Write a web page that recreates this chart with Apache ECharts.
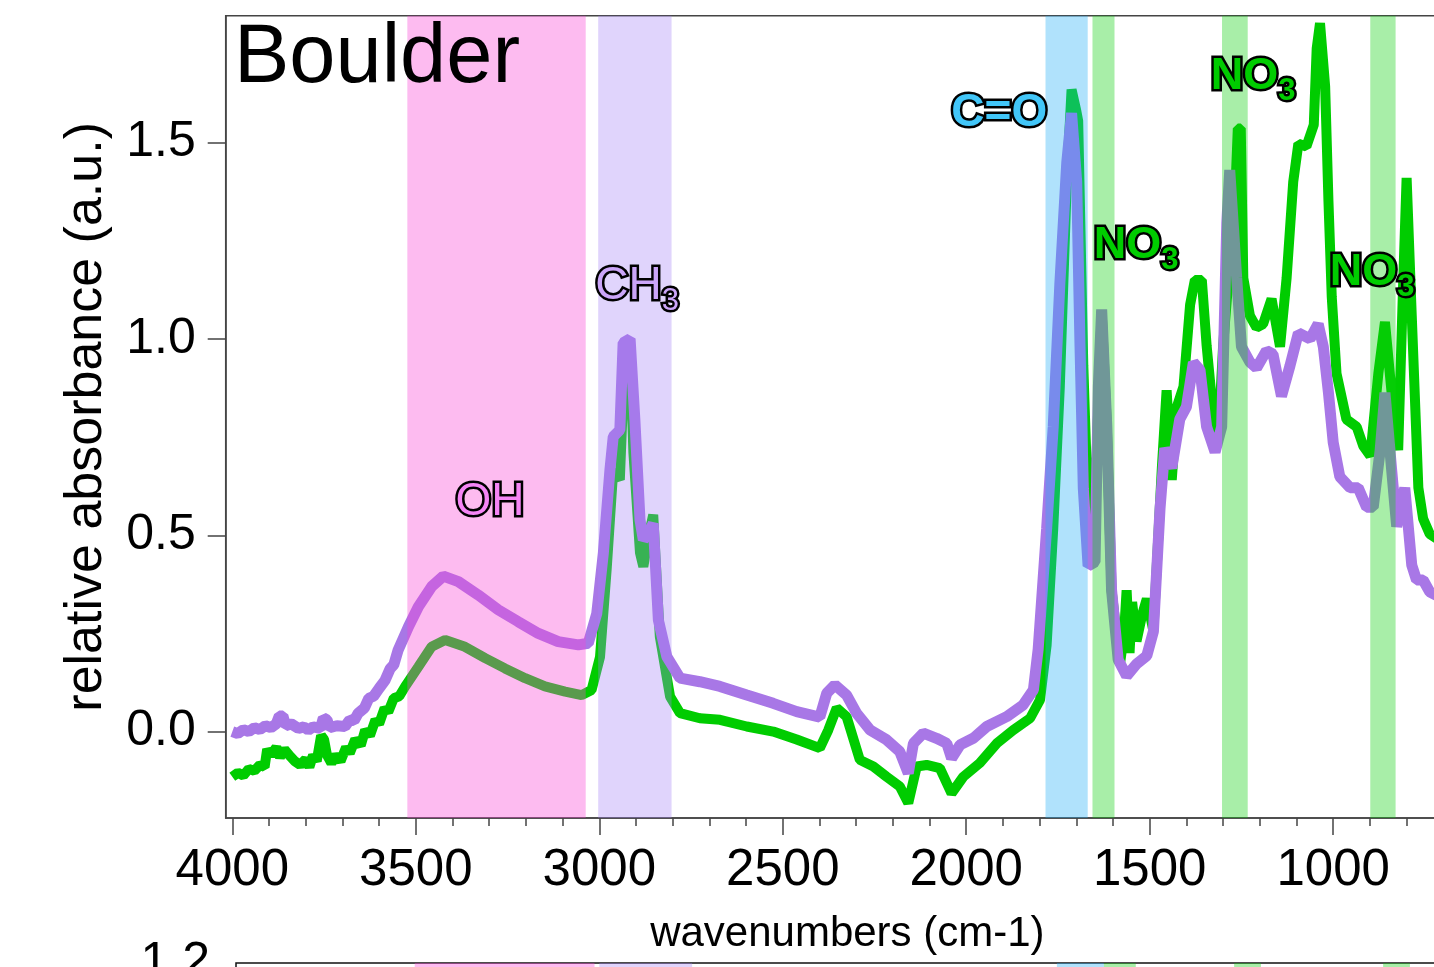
<!DOCTYPE html>
<html>
<head>
<meta charset="utf-8">
<script src="https://cdn.jsdelivr.net/npm/echarts@6/dist/echarts.min.js"></script>
<style>
html, body { margin: 0; padding: 0; background: #fff; }
#chart { width: 1434px; height: 967px; }
</style>
</head>
<body>
<div id="chart"></div>
<script>
// spectra (wavenumber, relative absorbance)
var greenWn = [4000, 3985, 3970, 3955, 3940, 3925, 3912, 3905, 3895, 3880, 3870, 3858, 3845, 3830, 3815, 3800, 3790, 3780, 3770, 3758, 3750, 3742, 3730, 3718, 3705, 3690, 3680, 3665, 3650, 3638, 3625, 3610, 3600, 3585, 3575, 3560, 3545, 3529, 3493, 3457, 3420, 3366, 3311, 3257, 3202, 3148, 3093, 3048, 3021, 2998, 2980, 2962, 2944, 2930, 2916, 2907, 2889, 2880, 2866, 2853, 2835, 2807, 2780, 2726, 2671, 2598, 2526, 2462, 2399, 2376, 2353, 2326, 2290, 2253, 2217, 2181, 2158, 2135, 2108, 2072, 2040, 2008, 1963, 1917, 1872, 1826, 1799, 1781, 1763, 1745, 1726, 1713, 1700, 1695, 1681, 1670, 1660, 1645, 1631, 1617, 1604, 1581, 1570, 1563, 1555, 1548, 1536, 1520, 1508, 1490, 1467, 1454, 1440, 1426, 1408, 1390, 1377, 1358, 1345, 1327, 1313, 1300, 1290, 1270, 1260, 1252, 1245, 1227, 1209, 1191, 1168, 1145, 1127, 1109, 1095, 1073, 1053, 1045, 1036, 1022, 1013, 1004, 991, 964, 936, 918, 899, 877, 859, 836, 823, 809, 800, 786, 768, 755, 737, 715, 690];
var greenAbs = [-0.115, -0.105, -0.112, -0.095, -0.1, -0.085, -0.09, -0.045, -0.06, -0.04, -0.065, -0.045, -0.06, -0.075, -0.085, -0.07, -0.09, -0.06, -0.075, -0.01, -0.02, -0.06, -0.08, -0.06, -0.075, -0.04, -0.055, -0.02, -0.035, 0.004, -0.01, 0.03, 0.02, 0.06, 0.05, 0.085, 0.09, 0.115, 0.165, 0.216, 0.233, 0.216, 0.187, 0.161, 0.136, 0.115, 0.102, 0.093, 0.106, 0.19, 0.412, 0.666, 0.641, 0.97, 0.96, 0.71, 0.455, 0.42, 0.497, 0.552, 0.242, 0.089, 0.047, 0.034, 0.03, 0.013, 0.0, -0.02, -0.042, 0.004, 0.06, 0.038, -0.072, -0.089, -0.115, -0.14, -0.182, -0.089, -0.085, -0.093, -0.157, -0.115, -0.08, -0.03, 0.004, 0.034, 0.081, 0.22, 0.516, 0.879, 1.40, 1.635, 1.58, 1.555, 0.931, 0.62, 0.52, 0.7, 1.07, 0.78, 0.36, 0.172, 0.25, 0.36, 0.2, 0.33, 0.23, 0.3, 0.338, 0.256, 0.671, 0.869, 0.641, 0.827, 0.879, 1.087, 1.15, 1.15, 0.983, 0.806, 0.754, 0.983, 1.1, 1.30, 1.536, 1.536, 1.155, 1.059, 1.029, 1.038, 1.102, 0.98, 1.155, 1.40, 1.497, 1.49, 1.545, 1.74, 1.804, 1.643, 1.351, 1.107, 0.912, 0.795, 0.776, 0.727, 0.702, 0.912, 1.043, 0.814, 0.717, 1.155, 1.41, 1.059, 0.621, 0.542, 0.503, 0.49, 0.48];

var purpleWn = [4000, 3985, 3970, 3955, 3940, 3925, 3910, 3895, 3880, 3872, 3862, 3855, 3840, 3820, 3805, 3793, 3780, 3760, 3752, 3742, 3735, 3715, 3693, 3680, 3668, 3657, 3640, 3628, 3615, 3600, 3584, 3570, 3560, 3548, 3520, 3493, 3457, 3425, 3384, 3330, 3275, 3221, 3166, 3112, 3057, 3030, 3007, 2989, 2971, 2962, 2944, 2935, 2916, 2903, 2889, 2880, 2866, 2853, 2839, 2816, 2780, 2726, 2671, 2598, 2526, 2462, 2399, 2380, 2358, 2326, 2299, 2262, 2217, 2181, 2158, 2144, 2117, 2081, 2053, 2040, 2017, 1981, 1944, 1890, 1845, 1817, 1804, 1795, 1781, 1763, 1745, 1726, 1713, 1699, 1690, 1681, 1668, 1649, 1640, 1631, 1617, 1604, 1586, 1563, 1536, 1508, 1490, 1472, 1459, 1440, 1418, 1400, 1381, 1363, 1345, 1322, 1304, 1290, 1282, 1263, 1250, 1227, 1209, 1182, 1164, 1141, 1118, 1095, 1063, 1041, 1027, 1013, 1000, 982, 954, 932, 909, 891, 872, 859, 841, 827, 814, 805, 786, 773, 755, 737, 715, 690];
var purpleAbs = [0.0, -0.005, 0.005, 0.0, 0.01, 0.005, 0.015, 0.01, 0.02, 0.04, 0.04, 0.015, 0.02, 0.008, 0.012, 0.004, 0.012, 0.008, 0.035, 0.03, 0.01, 0.015, 0.013, 0.03, 0.028, 0.047, 0.06, 0.085, 0.09, 0.11, 0.13, 0.16, 0.17, 0.208, 0.267, 0.318, 0.369, 0.396, 0.382, 0.348, 0.31, 0.28, 0.25, 0.229, 0.221, 0.225, 0.30, 0.454, 0.666, 0.751, 0.768, 0.99, 1.0, 0.794, 0.539, 0.488, 0.505, 0.53, 0.284, 0.191, 0.136, 0.127, 0.115, 0.093, 0.072, 0.051, 0.037, 0.098, 0.119, 0.093, 0.047, 0.004, -0.021, -0.051, -0.106, -0.03, -0.004, -0.017, -0.03, -0.068, -0.034, -0.017, 0.013, 0.038, 0.068, 0.106, 0.21, 0.33, 0.516, 0.776, 1.139, 1.45, 1.575, 1.40, 0.983, 0.619, 0.422, 0.432, 0.879, 1.075, 0.776, 0.36, 0.183, 0.142, 0.172, 0.193, 0.255, 0.567, 0.722, 0.671, 0.796, 0.827, 0.94, 0.921, 0.776, 0.712, 0.776, 1.295, 1.43, 1.155, 0.98, 0.941, 0.926, 0.97, 0.961, 0.854, 0.931, 1.015, 1.0, 1.038, 0.98, 0.863, 0.736, 0.649, 0.621, 0.621, 0.571, 0.571, 0.717, 0.863, 0.669, 0.522, 0.58, 0.621, 0.424, 0.386, 0.386, 0.356, 0.345, 0.34];

var majorTicks = [4000, 3500, 3000, 2500, 2000, 1500, 1000];
var minorTicks = [4000, 3900, 3800, 3700, 3600, 3500, 3400, 3300, 3200, 3100, 3000, 2900, 2800, 2700, 2600, 2500, 2400, 2300, 2200, 2100, 2000, 1900, 1800, 1700, 1600, 1500, 1400, 1300, 1200, 1100, 1000, 900, 800, 700];
var yTicks = [0, 0.5, 1.0, 1.5];

// shaded absorption bands (wavenumber ranges)
var bandFrom = [3523, 3003, 1784, 1656, 1303, 899];
var bandTo = [3037, 2803, 1669, 1596, 1233, 830];
var bandFrom2 = [3523, 3020, 1773, 1645, 1290, 884];
var bandTo2 = [3033, 2767, 1645, 1558, 1217, 811];

// group labels
var labelText = ['OH', 'CH3', 'C=O', 'NO3', 'NO3', 'NO3'];
var labelWn = [3298, 2897, 1910, 1537, 1218, 894];
var labelAbs = [0.585, 1.134, 1.575, 1.238, 1.669, 1.17];

var bandColors = ['rgba(249,66,213,0.36)', 'rgba(165,129,247,0.34)', 'rgba(36,175,247,0.36)',
    'rgba(14,208,14,0.36)', 'rgba(14,208,14,0.36)', 'rgba(14,208,14,0.36)'];

function pairs(xs, ys) {
    var out = [];
    for (var i = 0; i < xs.length; i++) out.push([xs[i], ys[i]]);
    return out;
}

function bands(from, to) {
    var out = [];
    for (var i = 0; i < from.length; i++) {
        out.push([{ xAxis: from[i], itemStyle: { color: bandColors[i] } }, { xAxis: to[i] }]);
    }
    return out;
}

function labelFormat(t) {
    if (t === 'OH') return '{oh|OH}';
    if (t === 'CH3') return '{ch|CH}{chs|3}';
    if (t === 'C=O') return '{co|C=O}';
    return '{no|NO}{nos|3}';
}

// outline layer draws black strokes under the coloured fill layer
function richSet(outlined) {
    var s = function (fs, bold, color, sub) {
        var st = { fontSize: fs, fontFamily: 'Liberation Sans', color: outlined ? '#000' : color };
        if (bold) st.fontWeight = 'bold';
        if (outlined) { st.textBorderColor = '#000'; st.textBorderWidth = 5; }
        else { st.textBorderColor = 'transparent'; st.textBorderWidth = 0; }
        if (sub) { st.verticalAlign = 'bottom'; st.padding = [30, 0, 0, 0]; }
        return st;
    };
    return {
        oh: s(46, false, '#f585f5'),
        ch: s(46, false, '#cba5f8'),
        chs: s(31, false, '#cba5f8', true),
        co: s(46, true, '#42c6f8'),
        no: s(45, true, '#00cc00'),
        nos: s(31, true, '#00cc00', true)
    };
}

var labelData = [];
for (var i = 0; i < labelText.length; i++) {
    labelData.push({
        value: [labelWn[i], labelAbs[i]],
        label: { formatter: labelFormat(labelText[i]) }
    });
}

var chart = echarts.init(document.getElementById('chart'), null, { renderer: 'canvas' });

var axisColor = '#444';
var option = {
    animation: false,
    backgroundColor: '#fff',
    textStyle: { fontFamily: 'Liberation Sans' },
    grid: [
        { left: 225.7, top: 15.7, width: 1243.3, height: 802.3, outerBoundsMode: 'none', containLabel: false,
          show: true, borderColor: axisColor, borderWidth: 1.5, backgroundColor: 'transparent' },
        { left: 236, top: 963, width: 1233, height: 400, outerBoundsMode: 'none', containLabel: false,
          show: true, borderColor: '#111', borderWidth: 1.5, backgroundColor: 'transparent' }
    ],
    graphic: [{
        type: 'text', left: 234, top: 18, z: 100,
        style: { text: 'Boulder', font: '83px "Liberation Sans"', fill: '#000' }
    }],
    xAxis: [{
        type: 'value', gridIndex: 0, inverse: true, min: 630, max: 4018, position: 'bottom',
        name: 'wavenumbers (cm-1)', nameLocation: 'middle', nameGap: 95,
        nameTextStyle: { fontSize: 42, color: '#000', fontFamily: 'Liberation Sans' },
        axisLine: { show: true, onZero: false, lineStyle: { color: axisColor, width: 1.5 } },
        axisTick: { show: true, customValues: majorTicks, length: 17, lineStyle: { color: axisColor, width: 1.5 } },
        axisLabel: { customValues: majorTicks, fontSize: 51, color: '#000', margin: 27, fontFamily: 'Liberation Sans',
            formatter: function (v) { return String(v); } },
        splitLine: { show: false }
    }, {
        type: 'value', gridIndex: 0, inverse: true, min: 630, max: 4018, position: 'bottom',
        axisLine: { show: false, onZero: false },
        axisTick: { show: true, customValues: minorTicks, length: 8, lineStyle: { color: axisColor, width: 1.5 } },
        axisLabel: { show: false },
        splitLine: { show: false }
    }, {
        type: 'value', gridIndex: 1, inverse: true, min: 650, max: 4010,
        axisLine: { show: false, onZero: false }, axisTick: { show: false }, axisLabel: { show: false }, splitLine: { show: false }
    }],
    yAxis: [{
        type: 'value', gridIndex: 0, min: -0.22, max: 1.823,
        name: 'relative absorbance (a.u.)', nameLocation: 'middle', nameGap: 113,
        nameTextStyle: { fontSize: 52, color: '#000', fontFamily: 'Liberation Sans' },
        axisLine: { show: true, onZero: false, lineStyle: { color: axisColor, width: 1.5 } },
        axisTick: { show: true, customValues: yTicks, length: 18, lineStyle: { color: axisColor, width: 1.5 } },
        axisLabel: {
            customValues: yTicks, fontSize: 50, color: '#000', margin: 30, fontFamily: 'Liberation Sans',
            formatter: function (v) { return v.toFixed(1); }
        },
        splitLine: { show: false }
    }, {
        type: 'value', gridIndex: 1, min: 0, max: 1.2,
        axisLine: { show: false },
        axisTick: { show: false },
        axisLabel: {
            customValues: [1.2], fontSize: 50, color: '#000', margin: 26, fontFamily: 'Liberation Sans',
            formatter: function (v) { return v.toFixed(1); }
        },
        splitLine: { show: false }
    }],
    series: [{
        name: 'green', type: 'line', xAxisIndex: 0, yAxisIndex: 0,
        data: pairs(greenWn, greenAbs), showSymbol: false, symbol: 'none', z: 2,
        lineStyle: { color: '#00cc00', width: 10 }
    }, {
        name: 'purple', type: 'line', xAxisIndex: 0, yAxisIndex: 0,
        data: pairs(purpleWn, purpleAbs), showSymbol: false, symbol: 'none', z: 3,
        lineStyle: { color: '#a877e6', width: 11 },
        markArea: { silent: true, z: 10, data: bands(bandFrom, bandTo) }
    }, {
        name: 'bands2', type: 'line', xAxisIndex: 2, yAxisIndex: 1, data: [], symbol: 'none',
        markArea: { silent: true, z: 10, data: bands(bandFrom2, bandTo2) }
    }, {
        name: 'labelOutline', type: 'scatter', xAxisIndex: 0, yAxisIndex: 0, z: 20,
        symbolSize: 0, data: labelData, silent: true, itemStyle: { opacity: 1 },
        label: { show: true, position: 'inside', opacity: 1, rich: richSet(true) }
    }, {
        name: 'labels', type: 'scatter', xAxisIndex: 0, yAxisIndex: 0, z: 21,
        symbolSize: 0, data: labelData, silent: true, itemStyle: { opacity: 1 },
        label: { show: true, position: 'inside', opacity: 1, textBorderWidth: 0, textBorderColor: 'transparent', rich: richSet(false) }
    }]
};

chart.setOption(option);
</script>
</body>
</html>
